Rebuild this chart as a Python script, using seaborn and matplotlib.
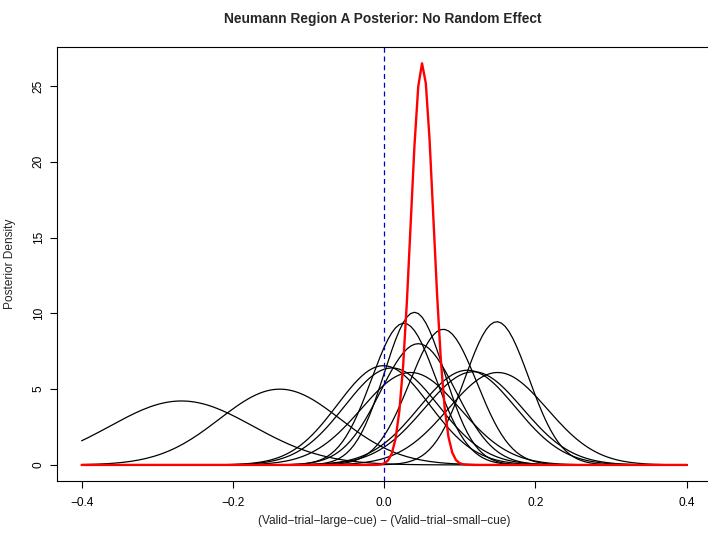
import numpy as np
import pandas as pd
import matplotlib
matplotlib.use("Agg")
import matplotlib.pyplot as plt
import seaborn as sns

# Posterior densities (normal): peak location and peak height
subject_means = [-0.268, -0.138, 0.040, 0.026, 0.045, 0.078, 0.149,
                 -0.001, 0.010, 0.035, 0.110, 0.118, 0.150]
subject_peaks = [4.22, 5.00, 10.07, 9.35, 8.00, 8.95, 9.45,
                 6.55, 6.40, 6.10, 6.25, 6.15, 6.10]
group_mean = 0.0502
group_peak = 26.5

x_ticks = [-0.4, -0.2, 0.0, 0.2, 0.4]
x_tick_labels = ["\u22120.4", "\u22120.2", "0.0", "0.2", "0.4"]
y_ticks = [0, 5, 10, 15, 20, 25]

title = "Neumann Region A Posterior: No Random Effect"
xlabel = "(Valid\u2212trial\u2212large\u2212cue) \u2212 (Valid\u2212trial\u2212small\u2212cue)"
ylabel = "Posterior Density"

grid = np.round(np.arange(-0.4, 0.4 + 1e-9, 0.005), 4)


def dens(m, peak):
    sd = 1.0 / (peak * np.sqrt(2 * np.pi))
    return peak * np.exp(-0.5 * ((grid - m) / sd) ** 2)


rows = []
for i, (m, p) in enumerate(zip(subject_means, subject_peaks)):
    rows.append(pd.DataFrame({"x": grid, "y": dens(m, p), "curve": i}))
df = pd.concat(rows, ignore_index=True)
df_group = pd.DataFrame({"x": grid, "y": dens(group_mean, group_peak)})

sns.set_style("white")
plt.rcParams["font.family"] = ["Liberation Sans", "DejaVu Sans"]

fig = plt.figure(figsize=(7.08, 5.37), dpi=100)
W, H = 708, 537
left, right, top, bottom = 57.4, 711.0, 47.2, 481.0
ax = fig.add_axes([left / W, (H - bottom) / H, (right - left) / W, (bottom - top) / H])

sns.lineplot(data=df, x="x", y="y", units="curve", estimator=None,
             color="black", linewidth=0.9, ax=ax, legend=False)
ax.axvline(0.0, color="#0000cc", linestyle=(0, (4, 3)), linewidth=0.9)
sns.lineplot(data=df_group, x="x", y="y", color="red", linewidth=1.7,
             ax=ax, legend=False)

ax.set_xlim(-0.432, 0.432)
ax.set_ylim(-1.06, 27.56)
ax.set_xticks(x_ticks)
ax.set_xticklabels(x_tick_labels)
ax.set_yticks(y_ticks)
ax.set_yticklabels([str(v) for v in y_ticks], rotation=90, va="center")
ax.tick_params(axis="both", direction="out", length=5.2, width=0.8,
               labelsize=8.6, colors="black", left=True, bottom=True)
ax.tick_params(axis="x", pad=6.2)
ax.tick_params(axis="y", pad=3.8)
for s in ax.spines.values():
    s.set_color("black")
    s.set_linewidth(0.8)

ax.set_xlabel("")
ax.set_ylabel("")
fig.text(384 / W, 1 - 521 / H, xlabel, ha="center", va="center", fontsize=8.6)
fig.text(10 / W, 1 - 264 / H, ylabel, ha="center", va="center", rotation=90, fontsize=8.6)
fig.text(383 / W, 1 - 19.5 / H, title, ha="center", va="center", fontsize=9.9, fontweight="bold")

fig.savefig("out.png", dpi=100)
